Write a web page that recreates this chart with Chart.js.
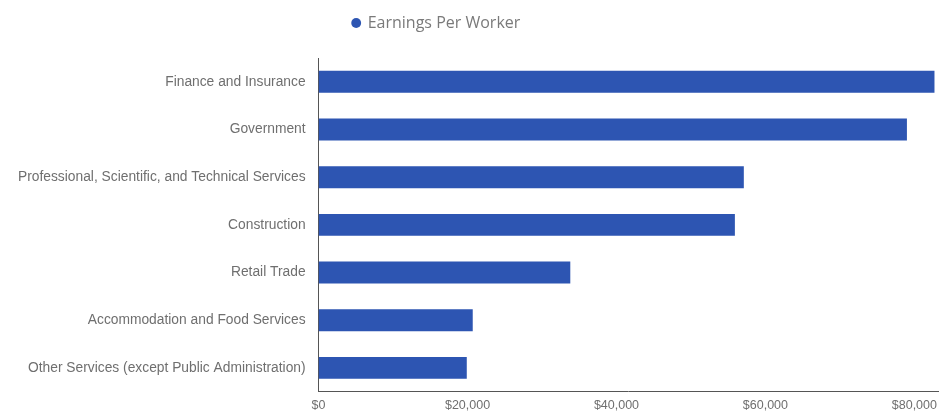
<!DOCTYPE html>
<html>
<head>
<meta charset="utf-8">
<script src="https://cdn.jsdelivr.net/npm/chart.js@4/dist/chart.umd.min.js"></script>
<style>
  html, body { margin: 0; padding: 0; background: #fff; }
  #wrap { width: 943px; height: 413px; }
</style>
</head>
<body>
<div id="wrap"><canvas id="chart_earnings"></canvas></div>
<script>
const INDUSTRIES = [
  'Finance and Insurance',
  'Government',
  'Professional, Scientific, and Technical Services',
  'Construction',
  'Retail Trade',
  'Accommodation and Food Services',
  'Other Services (except Public Administration)'
];
const EARNINGS_PER_WORKER = [82700, 79000, 57100, 55900, 33800, 20700, 19900];
const X_TICKS = [0, 20000, 40000, 60000, 80000];

(function() {

  // extra room under the legend, and nudge it a bit to the left
  const legendTweak = {
    id: 'legendTweak',
    beforeInit(chart) {
      const fit = chart.legend.fit;
      chart.legend.fit = function() {
        fit.bind(chart.legend)();
        this.height += 17;
      };
    },
    afterLayout(chart) {
      chart.legend.left -= 37;
      chart.legend.right -= 37;
    }
  };

  const chart_earnings = {
    labels: INDUSTRIES,
    datasets: [{
      label: 'Earnings Per Worker',
      data: EARNINGS_PER_WORKER,
      backgroundColor: '#2D55B2',
      borderWidth: 0,
      barPercentage: 0.92,
      categoryPercentage: 0.5
    }]
  };

  new Chart(
    document.getElementById('chart_earnings'), {
      type: 'bar',
      data: chart_earnings,
      plugins: [legendTweak],
      options: {
        indexAxis: 'y',
        responsive: true,
        maintainAspectRatio: false,
        animation: false,
        layout: { padding: { top: 5, left: 5, right: 1, bottom: -7 } },
        plugins: {
          tooltip: { enabled: false },
          legend: {
            position: 'top',
            labels: {
              usePointStyle: true,
              pointStyle: 'circle',
              boxWidth: 7,
              boxHeight: 7,
              color: '#7a7a7a',
              font: { family: 'Open Sans', size: 16 }
            }
          }
        },
        scales: {
          x: {
            min: 0,
            max: 83200,
            afterBuildTicks(axis) {
              axis.ticks = X_TICKS.map(v => ({ value: v }));
            },
            grid: { display: false, drawTicks: false },
            border: { display: true, color: '#555', width: 1 },
            ticks: {
              padding: 6,
              color: '#6f6f6f',
              font: { family: 'Liberation Sans', size: 12.5 },
              callback: v => '$' + Number(v).toLocaleString('en-US')
            }
          },
          y: {
            grid: { display: false, drawTicks: false },
            border: { display: true, color: '#555', width: 1 },
            ticks: {
              padding: 13,
              color: '#6f6f6f',
              font: { family: 'Liberation Sans', size: 13.8 }
            }
          }
        }
      }
    }
  );

})();
</script>
</body>
</html>
